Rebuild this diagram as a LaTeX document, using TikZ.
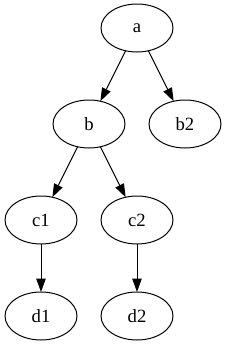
\documentclass[tikz,border=0pt]{standalone}
\usepackage{fontspec}
\setmainfont{Liberation Serif}
\usepackage{tikz}
\usepackage{tkz-graph}
\usetikzlibrary{arrows.meta,shapes.geometric}

\begin{document}
\begin{tikzpicture}[x=0.75pt,y=-0.75pt]
        \useasboundingbox (0,0) rectangle (227,347);
        \GraphInit[vstyle=Normal]
        \tikzset{VertexStyle/.style={draw, ellipse, minimum width=54pt,
          minimum height=36pt, inner sep=0pt, line width=0.75pt,
          font=\fontsize{14}{16}\selectfont}}
        \Vertex[x=137, y=28]{a}
        \Vertex[x=89, y=124]{b}
        \Vertex[x=185, y=124]{b2}
        \Vertex[x=41, y=220]{c1}
        \Vertex[x=137, y=220]{c2}
        \Vertex[x=41, y=316]{d1}
        \Vertex[x=137, y=316]{d2}
        \tikzset{EdgeStyle/.style={-{Triangle[length=10pt,width=7pt]},
          line width=0.75pt, black}}
        \Edge(a)(b)
        \Edge(a)(b2)
        \Edge(b)(c1)
        \Edge(b)(c2)
        \Edge(c1)(d1)
        \Edge(c2)(d2)
    \end{tikzpicture}
\end{document}
